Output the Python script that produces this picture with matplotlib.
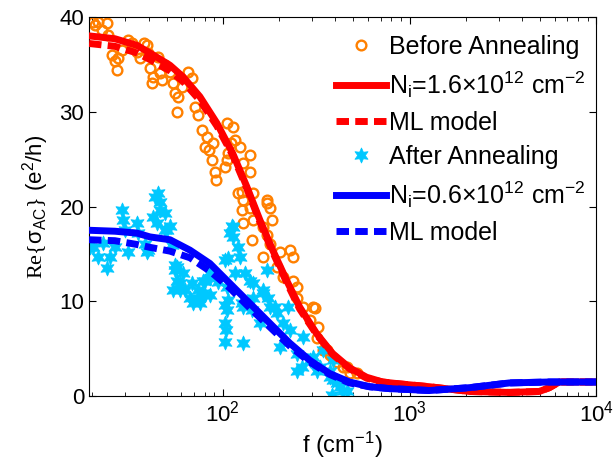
import matplotlib
matplotlib.use("Agg")
import matplotlib.pyplot as plt

plt.rcParams['font.family'] = ['Liberation Sans', 'DejaVu Sans']
plt.rcParams['mathtext.fontset'] = 'custom'
plt.rcParams['mathtext.rm'] = 'Liberation Serif'
plt.rcParams['mathtext.it'] = 'Liberation Sans:italic'
plt.rcParams['mathtext.bf'] = 'Liberation Sans:bold'

# Before annealing (measured), f in cm^-1, Re{sigma} in e^2/h
before_f = [20.2, 20.7, 21.5, 22.5, 24.0, 24.3, 25.5, 26.4, 27.1, 27.5, 28.8,
            31.0, 32.6, 34.7, 36.0, 37.8, 39.2, 39.7, 40.7, 41.7, 42.2, 44.9,
            46.0, 47.5, 48.9, 52.1, 54.1, 55.4, 56.8, 57.4, 60.4, 65.0, 68.2,
            70.8, 73.5, 77.2, 80.1, 82.1, 84.5, 87.3, 88.4, 90.6, 91.8, 102.5,
            105.0, 105.0, 106.4, 110.0, 113.0, 115.8, 120.2, 123.3, 126.4,
            126.4, 127.9, 127.9, 127.9, 139.4, 139.4, 139.4, 142.9, 144.6,
            144.6, 163.7, 163.7, 171.9, 171.9, 171.9, 178.4, 178.4, 183.0,
            194.4, 201.6, 209.5, 228.2, 236.6, 236.6, 248.6, 248.6, 267.6,
            291.7, 302.8, 310.3, 318.2, 322.0, 342.9, 359.6, 373.4, 387.5,
            407.4, 438.7, 460.5, 478.0, 521.0]
before_sigma = [39.5, 39.2, 39.5, 38.6, 39.4, 38.1, 36.0, 35.3, 34.4, 35.7, 36.5,
                37.6, 37.3, 36.3, 35.7, 37.3, 37.0, 36.2, 34.6, 33.0, 33.7, 35.8,
                34.1, 33.4, 34.9, 34.2, 33.0, 32.0, 30.0, 31.6, 32.6, 34.2, 33.6,
                30.5, 29.7, 28.1, 26.3, 27.3, 26.0, 24.9, 26.7, 23.6, 22.8, 24.2,
                28.8, 24.9, 25.6, 26.7, 28.4, 27.0, 21.4, 26.3, 21.5,
                19.6, 24.6, 20.7, 18.3, 25.4, 23.6, 19.9, 16.5, 21.4,
                18.6, 17.8, 14.7, 20.7, 20.4, 17.0, 19.8, 16.1, 18.6,
                13.6, 15.2, 12.6, 15.4, 14.7, 12.2, 10.4, 11.5, 9.4,
                8.0, 9.4, 9.3, 6.1, 7.3, 4.9, 4.9, 4.3, 4.0,
                3.6, 3.1, 3.1, 2.5, 2.4]

# After annealing (measured)
after_f = [19.5, 20.2, 21.5, 22.8, 24.0, 24.9, 26.4, 28.8, 29.2, 29.9, 31.0,
           34.7, 35.1, 38.3, 39.2, 39.7, 42.2, 43.3, 44.4, 44.9, 46.0, 46.0,
           48.9, 48.9, 50.2, 52.1, 53.3, 54.1, 55.4, 55.4, 56.8, 56.8, 58.9,
           58.9, 61.1, 62.6, 66.7, 68.2, 69.1, 73.5, 73.5, 75.3, 78.2, 78.2,
           80.1, 80.1, 85.2, 85.2, 85.2, 94.0, 102.5, 102.5, 102.5, 102.5,
           104.0, 105.0, 105.0, 106.4, 106.4, 109.0, 111.7, 113.0, 113.0,
           115.8, 120.2, 123.3, 126.4, 127.9, 127.9, 131.2, 139.4, 142.9,
           144.6, 144.6, 157.6, 163.7, 163.7, 171.9, 174.1, 178.4, 189.6,
           194.4, 201.6, 209.5, 222.8, 228.2, 248.6, 248.6, 264.4, 267.6,
           291.7, 302.8, 318.2, 330.3, 342.9, 373.4, 373.4, 382.7, 387.5,
           387.5, 407.4, 422.7, 438.7, 460.5]
after_sigma = [15.7, 15.7, 14.7, 16.2, 13.5, 14.7, 15.7, 19.6, 18.6, 17.5, 15.2,
               18.3, 17.2, 16.1, 15.2, 15.4, 18.9, 21.0, 18.3, 21.4, 20.5, 19.6,
               19.3, 17.5, 17.5, 18.0, 15.9, 11.2, 13.3, 13.8, 12.2, 13.6, 11.2,
               11.9, 13.0, 11.2, 10.4, 11.9, 9.8, 11.2, 10.4, 9.8, 10.9, 12.2,
               12.2, 10.7, 12.5, 10.7, 13.0, 12.0, 14.4, 7.7, 5.7, 9.6,
               7.0, 11.5, 9.1, 14.6, 10.1, 17.2, 18.0, 17.8, 16.8,
               13.0, 15.7, 14.7, 9.8, 5.6, 9.4, 13.0, 12.2, 9.1,
               10.4, 11.9, 7.7, 10.9, 11.2, 13.3, 10.4, 9.4, 9.4,
               8.8, 5.2, 7.7, 9.4, 7.0, 4.5, 2.7, 3.1, 6.2,
               3.8, 4.1, 2.7, 3.1, 4.9, 2.0, 2.7, 0.1, 3.8,
               1.7, 1.4, 1.0, 0.6, 0.6]

# Model curves
red_f = [19.2, 26.4, 34.7, 40.7, 52.1, 61.1, 75.3, 92.9, 113, 134.4, 157.8,
         185, 219.8, 258, 318, 387.5, 477, 589, 717, 885, 1279, 2094, 3428,
         4955, 5610, 6340, 10000]
red_fit = [38.0, 37.7, 37.0, 36.2, 34.9, 33.7, 31.6, 28.8, 25.6, 22.1, 18.6,
           15.4, 12.2, 9.4, 6.6, 4.5, 3.0, 2.0, 1.5, 1.3, 1.0, 0.5, 0.4,
           0.5, 0.9, 1.5, 1.5]
red_ml = [37.2, 36.9, 36.2, 35.5, 34.3, 33.2, 31.2, 28.5, 25.4, 21.9, 18.4,
          15.2, 12.0, 9.2, 6.5, 4.4, 2.9, 1.9, 1.5, 1.3, 1.0, 0.5, 0.4,
          0.5, 0.9, 1.5, 1.5]

blue_f = [19.2, 26.4, 34.7, 40.7, 52.1, 66.7, 85.2, 109, 139.4, 178.4, 228.2,
          291.7, 373, 477, 611, 782, 1279, 2094, 3428, 5610, 10000]
blue_fit = [17.5, 17.4, 17.2, 16.8, 16.5, 15.4, 14.0, 11.9, 9.8, 7.7, 5.6,
            3.8, 2.4, 1.5, 1.0, 0.8, 0.6, 0.9, 1.4, 1.5, 1.5]
blue_ml = [16.5, 16.4, 16.0, 15.7, 15.3, 14.6, 13.2, 11.4, 9.3, 7.3, 5.3,
           3.6, 2.3, 1.4, 1.0, 0.8, 0.6, 0.9, 1.4, 1.5, 1.5]

orange = '#ff8000'
cyan = '#00c8ff'

fig = plt.figure(figsize=(6.14, 4.7), dpi=100)
ax = fig.add_axes([0.145, 0.157, 0.826, 0.807])

ax.plot(before_f, before_sigma, 'o', ls='none', mfc='none', mec=orange,
        ms=7, mew=1.7, label='Before Annealing', zorder=2)
ax.plot(red_f, red_fit, '-', color='red', lw=5,
        label=r'N$_\mathregular{i}$=1.6×10$^\mathregular{12}$ cm$^\mathregular{-2}$', zorder=3)
ax.plot(red_f, red_ml, '--', color='red', lw=5, dashes=(1.8, 0.9),
        label='ML model', zorder=3)
ax.plot(after_f, after_sigma, marker=(6, 1, 0), ls='none', color=cyan,
        ms=11, mew=0.5, label='After Annealing', zorder=2)
ax.plot(blue_f, blue_fit, '-', color='blue', lw=5,
        label=r'N$_\mathregular{i}$=0.6×10$^\mathregular{12}$ cm$^\mathregular{-2}$', zorder=4)
ax.plot(blue_f, blue_ml, '--', color='blue', lw=5, dashes=(1.8, 0.9),
        label='ML model', zorder=4)

ax.set_xscale('log')
ax.set_xlim(19.2, 1e4)
ax.set_ylim(0, 40)
ax.set_yticks([0, 10, 20, 30, 40])
ax.tick_params(which='both', direction='in', top=True, right=True, labelsize=16)
ax.tick_params(which='major', length=5)
ax.tick_params(which='minor', length=3)

ax.set_xlabel(r'f (cm$^\mathregular{-1}$)', fontsize=17, labelpad=2)
ax.set_ylabel(r'$\mathrm{Re}\{\mathregular{σ}_\mathregular{AC}\}$ (e$^\mathregular{2}$/h)',
              fontsize=16, labelpad=6)

ax.legend(loc='upper right', bbox_to_anchor=(1.012, 0.995), frameon=False,
          fontsize=18, handlelength=2.0, handletextpad=0.12, labelspacing=0.42,
          borderaxespad=0.45, borderpad=0.2)

fig.savefig('out.png', dpi=100)
